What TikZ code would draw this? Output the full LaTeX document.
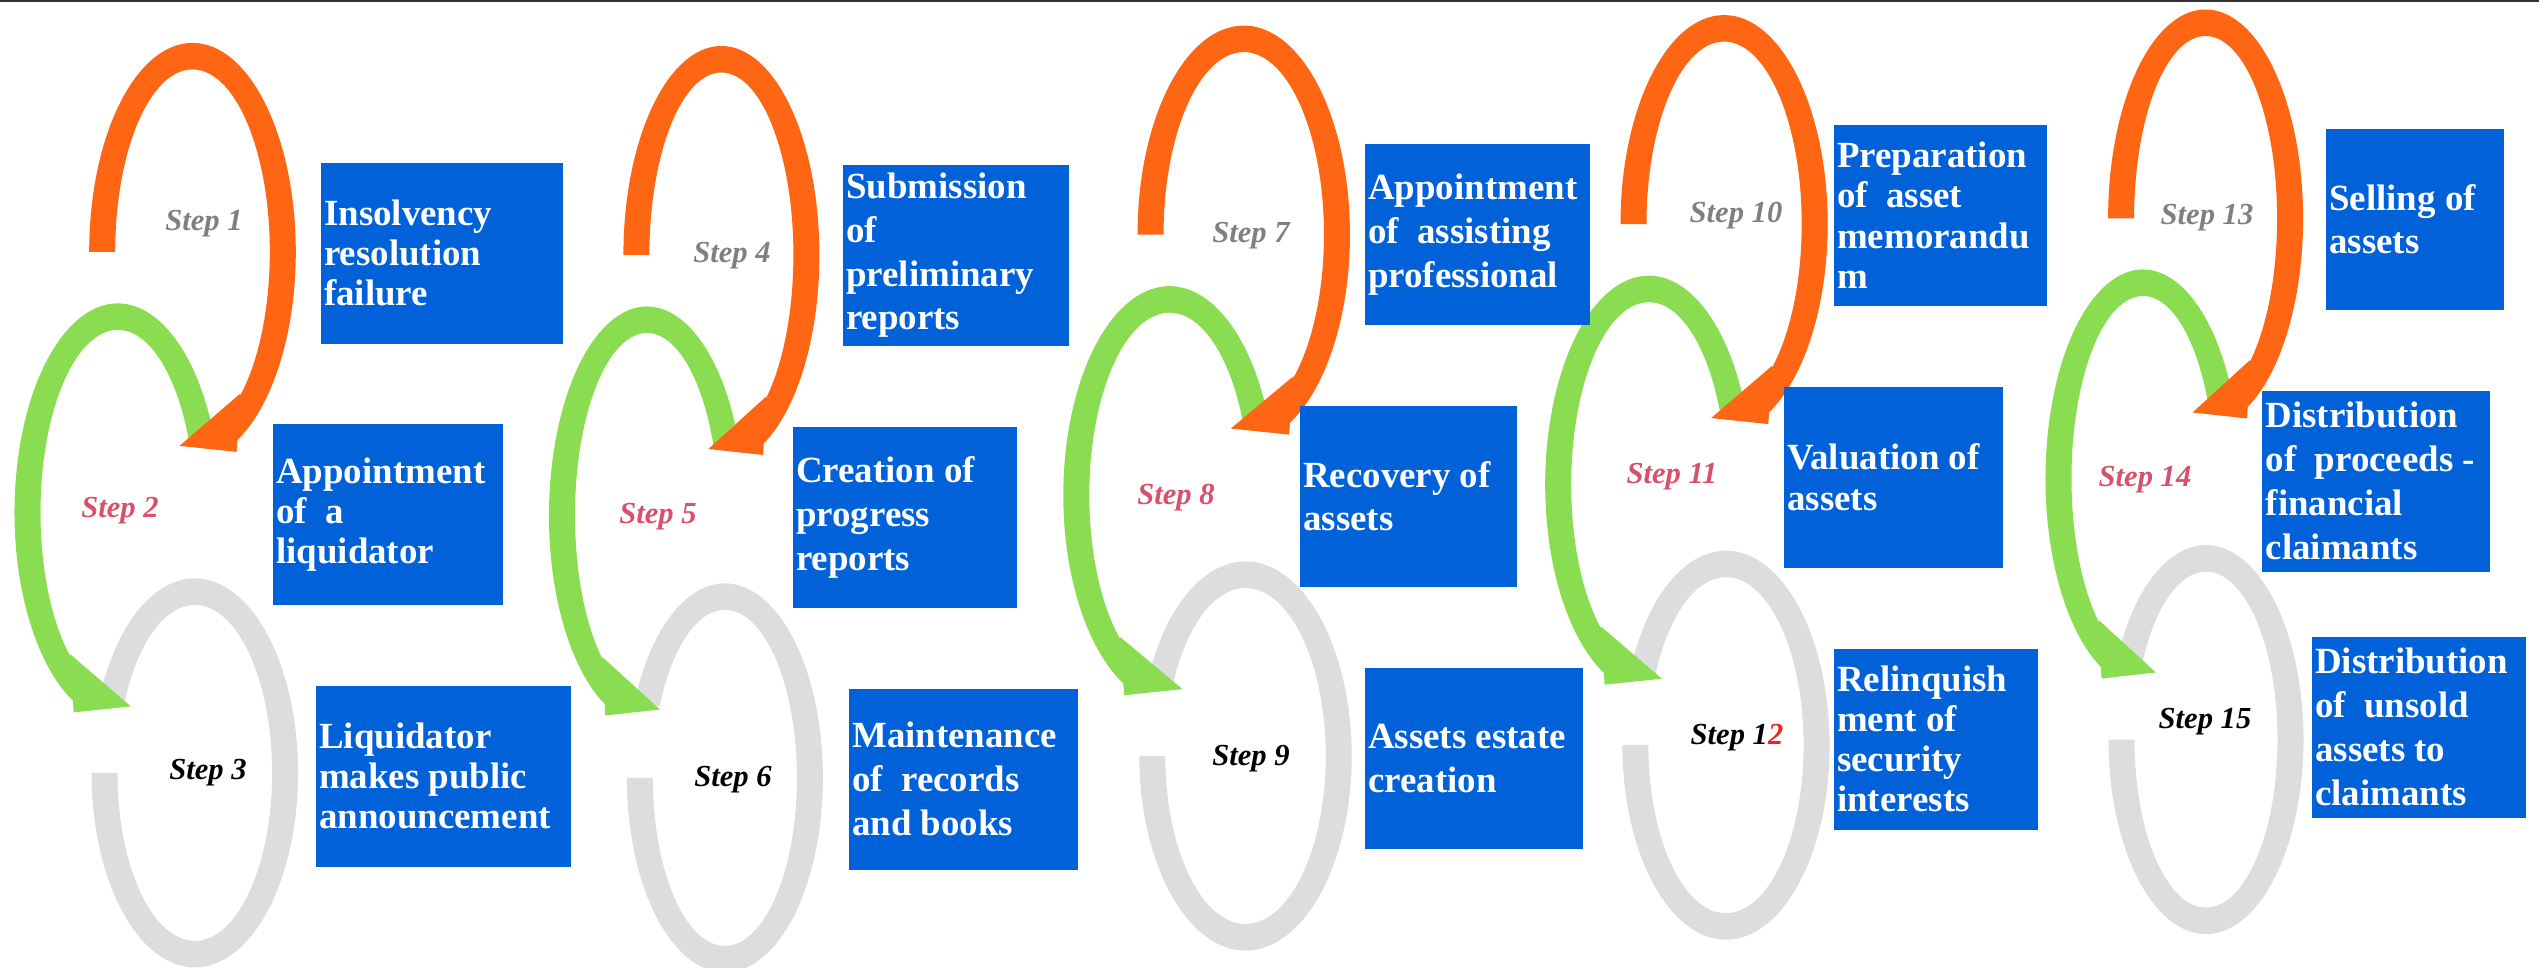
\documentclass[tikz,border=0pt]{standalone}
\usepackage{fontspec}
\setmainfont{Liberation Serif}
\definecolor{ringorange}{HTML}{FF6613}
\definecolor{ringgreen}{HTML}{8ADC50}
\definecolor{ringgray}{HTML}{DDDDDD}
\definecolor{boxblue}{HTML}{0061D9}
\definecolor{stepgray}{HTML}{808080}
\definecolor{steppink}{HTML}{D8506C}
\definecolor{stepred}{HTML}{E8281E}
\tikzset{
  stepbox/.style={fill=boxblue, text=white, anchor=north west, align=flush left,
    minimum height=1.81cm, inner xsep=0.035cm, inner ysep=0pt,
    font=\bfseries\fontsize{10.5pt}{11.4pt}\selectfont},
  widebox/.style={stepbox, font=\bfseries\fontsize{10.5pt}{12.5pt}\selectfont},
  steplabel/.style={inner sep=0pt, font=\bfseries\itshape\fontsize{8.7pt}{10pt}\selectfont}
}
\begin{document}
\begin{tikzpicture}
\useasboundingbox (0,0) rectangle (25.39,-9.68);
\draw[black!80, line width=0.02cm] (0,-0.01)--(25.39,-0.01);
% ring centres of each column: orange, green, gray, outer x radius
\foreach \n/\ox/\oy/\gx/\gy/\yx/\yy/\rx in {
  1/1.925/-2.519/1.178/-5.124/1.948/-7.729/1.033,
  2/7.214/-2.55/6.47/-5.155/7.249/-7.779/0.98,
  3/12.4375/-2.346/11.695/-4.952/12.455/-7.56/1.062,
  4/17.241/-2.241/16.488/-4.847/17.26/-7.452/1.036,
  5/22.056/-2.185/21.43/-4.785/22.06/-7.396/0.975}{
  \coordinate (o\n) at (\ox,\oy);
  \coordinate (g\n) at (\gx,\gy);
  \coordinate (y\n) at (\yx,\yy);
  \pgfmathsetmacro{\rin}{\rx-0.26}
  \pgfmathsetmacro{\hu}{\rin*cos(52)+0.003}
  \pgfmathsetmacro{\hl}{\rx*cos(64)-0.012}
  \fill[ringgray,shift={(y\n)}] ({\rx*cos(155)},{1.945*sin(155)})
    arc[start angle=155,end angle=-180,x radius=\rx,y radius=1.945]
    -- (-\rin,0) arc[start angle=-180,end angle=155,x radius=\rin,y radius=1.68] -- cycle;
  \fill[ringgreen,shift={(g\n)}] ({\rx*cos(26)},{2.09*sin(26)})
    arc[start angle=26,end angle=245,x radius=\rx,y radius=2.09]
    -- ({\rin*cos(233)},{1.825*sin(233)})
    arc[start angle=233,end angle=22,x radius=\rin,y radius=1.825] -- cycle;
  \fill[ringgreen,shift={(g\n)}] (0.13,-1.94)--(-\hu,-1.416)--(-\hl,-2.0)--cycle;
  \fill[ringorange,shift={(o\n)}] (-\rx,0)
    arc[start angle=180,end angle=-65,x radius=\rx,y radius=2.09]
    -- ({\rin*cos(-53)},{1.825*sin(-53)})
    arc[start angle=-53,end angle=180,x radius=\rin,y radius=1.825] -- cycle;
  \fill[ringorange,shift={(o\n)}] (-0.13,-1.94)--(\hu,-1.416)--(\hl,-2.0)--cycle;
}
\node[steplabel,text=stepgray] (s1) at (2.04,-2.24) {Step 1};
\node[steplabel,text=steppink] (s2) at (1.20,-5.11) {Step 2};
\node[steplabel] (s3) at (2.08,-7.73) {Step 3};
\node[steplabel,text=stepgray] (s4) at (7.32,-2.56) {Step 4};
\node[steplabel,text=steppink] (s5) at (6.58,-5.17) {Step 5};
\node[steplabel] (s6) at (7.33,-7.80) {Step 6};
\node[steplabel,text=stepgray] (s7) at (12.51,-2.36) {Step 7};
\node[steplabel,text=steppink] (s8) at (11.76,-4.98) {Step 8};
\node[steplabel] (s9) at (12.51,-7.59) {Step 9};
\node[steplabel,text=stepgray] (s10) at (17.36,-2.16) {Step 10};
\node[steplabel,text=steppink] (s11) at (16.72,-4.77) {Step 11};
\node[steplabel] (s12) at (17.37,-7.38) {Step 1\textcolor{stepred}{2}};
\node[steplabel,text=stepgray] (s13) at (22.07,-2.18) {Step 13};
\node[steplabel,text=steppink] (s14) at (21.45,-4.80) {Step 14};
\node[steplabel] (s15) at (22.05,-7.22) {Step 15};
\node[stepbox,text width=2.35cm] (b1) at (3.20,-1.62) {Insolvency\\resolution\\failure};
\node[stepbox,text width=2.23cm] (b2) at (2.72,-4.23) {Appointment\\of\ \ a\\liquidator};
\node[stepbox,text width=2.48cm] (b3) at (3.15,-6.85) {Liquidator\\makes public\\announcement};
\node[widebox,text width=2.195cm] (b4) at (8.42,-1.64) {Submission\\of\\preliminary\\reports};
\node[widebox,text width=2.17cm] (b5) at (7.92,-4.26) {Creation of\\progress\\reports};
\node[widebox,text width=2.22cm] (b6) at (8.48,-6.88) {Maintenance\\of\ \ records\\and books};
\node[widebox,text width=2.18cm] (b7) at (13.64,-1.43) {Appointment\\of\ \ assisting\\professional};
\node[widebox,text width=2.10cm] (b8) at (12.99,-4.05) {Recovery of\\assets};
\node[widebox,text width=2.11cm] (b9) at (13.64,-6.67) {Assets estate\\creation};
\node[stepbox,text width=2.06cm] (b10) at (18.33,-1.24) {Preparation\\of\ \ asset\\memorandu\\m};
\node[stepbox,text width=2.12cm] (b11) at (17.83,-3.86) {Valuation of\\assets};
\node[stepbox,text width=1.97cm] (b12) at (18.33,-6.48) {Relinquish\\ment of\\security\\interests};
\node[widebox,text width=1.71cm] (b13) at (23.25,-1.28) {Selling of\\assets};
\node[widebox,text width=2.21cm] (b14) at (22.615,-3.90) {Distribution\\of\ \ proceeds -\\financial\\claimants};
\node[widebox,text width=2.07cm] (b15) at (23.11,-6.36) {Distribution\\of\ \ unsold\\assets to\\claimants};
\end{tikzpicture}
\end{document}
